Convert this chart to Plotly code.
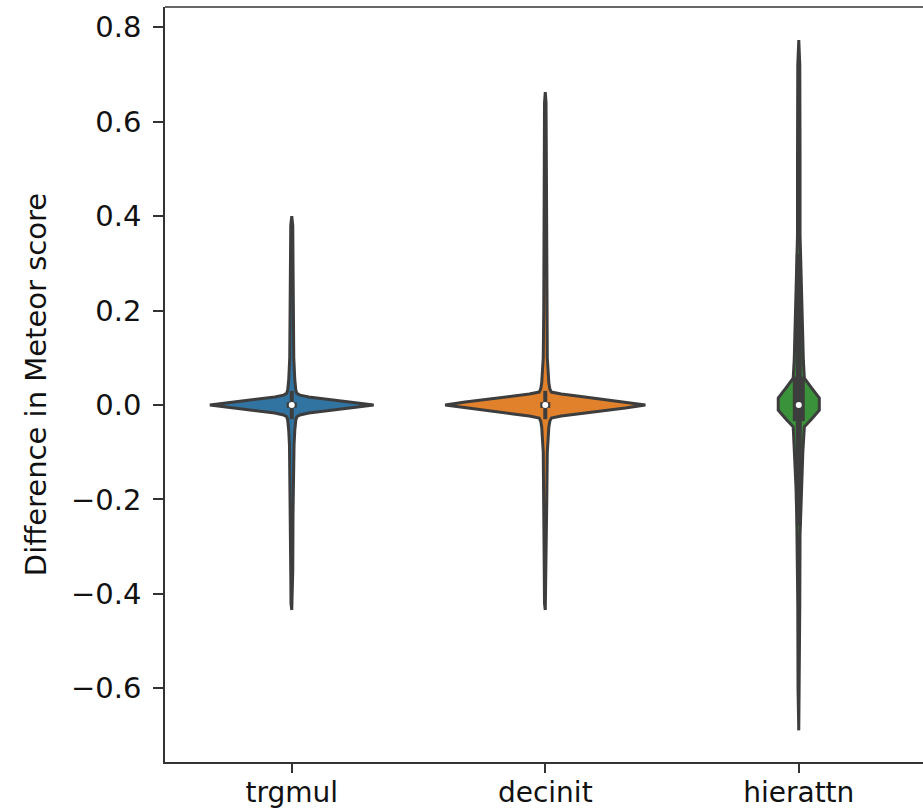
import numpy as np
import plotly.graph_objects as go

# Categories and colours
categories = ["trgmul", "decinit", "hierattn"]
fill_colors = ["#3274a1", "#e1812c", "#3a923a"]
edge_color = "#3d3d3d"

# Violin outlines: score values (ascending) and half-widths in category units
trgmul_y = [-0.434, -0.42, -0.35, -0.23, -0.21, -0.15, -0.085, -0.053, -0.042, -0.032, -0.025,
            -0.021, -0.017, -0.0127, -0.0085, -0.0042, 0.0, 0.0042, 0.0085, 0.0127, 0.017,
            0.021, 0.025, 0.032, 0.042, 0.053, 0.10, 0.20, 0.30, 0.38, 0.40]
trgmul_w = [0.0, 0.003, 0.004, 0.005, 0.007, 0.007, 0.009, 0.012, 0.013, 0.016, 0.020,
            0.032, 0.067, 0.130, 0.193, 0.260, 0.323, 0.260, 0.193, 0.130, 0.067,
            0.032, 0.020, 0.016, 0.013, 0.012, 0.008, 0.006, 0.005, 0.004, 0.0]

decinit_y = [-0.434, -0.42, -0.35, -0.20, -0.10, -0.047, -0.034, -0.0275, -0.0233, -0.019,
             -0.0148, -0.0106, -0.0064, 0.0, 0.0064, 0.0106, 0.0148, 0.019, 0.0233, 0.0275,
             0.034, 0.047, 0.10, 0.20, 0.40, 0.55, 0.64, 0.663]
decinit_w = [0.0, 0.003, 0.004, 0.006, 0.008, 0.014, 0.018, 0.024, 0.063, 0.126,
             0.189, 0.252, 0.316, 0.395, 0.316, 0.252, 0.189, 0.126, 0.063, 0.024,
             0.018, 0.014, 0.008, 0.006, 0.005, 0.004, 0.003, 0.0]

hierattn_y = [-0.689, -0.60, -0.42, -0.275, -0.237, -0.174, -0.10, -0.046, -0.030, -0.011,
              0.0, 0.015, 0.036, 0.057, 0.095, 0.138, 0.222, 0.300, 0.36, 0.53, 0.72, 0.773]
hierattn_w = [0.0, 0.003, 0.004, 0.005, 0.008, 0.011, 0.016, 0.022, 0.050, 0.081,
              0.081, 0.081, 0.051, 0.022, 0.018, 0.016, 0.013, 0.008, 0.005, 0.005, 0.004, 0.0]

# Inner box summaries: median, quartiles, whisker ends
medians = [0.0, 0.0, 0.0]
q1 = [-0.006, -0.006, -0.034]
q3 = [0.006, 0.006, 0.06]
whisker_lo = [-0.03, -0.03, -0.255]
whisker_hi = [0.03, 0.03, 0.32]
whisker_px = [4, 4, 6]
box_px = [10, 10, 12]

profiles = [(trgmul_y, trgmul_w), (decinit_y, decinit_w), (hierattn_y, hierattn_w)]

fig = go.Figure()

for i, (ys, ws) in enumerate(profiles):
    ys = np.asarray(ys, dtype=float)
    ws = np.asarray(ws, dtype=float)
    xs = np.concatenate([i - ws, (i + ws)[::-1]])
    yy = np.concatenate([ys, ys[::-1]])
    fig.add_trace(go.Scatter(
        x=xs, y=yy, mode="lines", fill="toself",
        fillcolor=fill_colors[i],
        line=dict(color=edge_color, width=3),
        hoverinfo="skip", showlegend=False,
    ))

for i in range(len(categories)):
    # whisker
    fig.add_trace(go.Scatter(
        x=[i, i], y=[whisker_lo[i], whisker_hi[i]], mode="lines",
        line=dict(color=edge_color, width=whisker_px[i]), hoverinfo="skip", showlegend=False,
    ))
    # interquartile box
    fig.add_trace(go.Scatter(
        x=[i, i], y=[q1[i], q3[i]], mode="lines",
        line=dict(color=edge_color, width=box_px[i]), hoverinfo="skip", showlegend=False,
    ))

# median points
fig.add_trace(go.Scatter(
    x=list(range(len(categories))), y=medians, mode="markers",
    marker=dict(color="white", size=6, line=dict(width=0)),
    hoverinfo="skip", showlegend=False,
))

axis_font = dict(family="DejaVu Sans", size=29, color="#111111")
xtick_font = dict(family="DejaVu Sans", size=28, color="#111111")

fig.update_layout(
    width=923, height=812,
    margin=dict(l=165, r=0, t=7, b=50),
    paper_bgcolor="white", plot_bgcolor="white",
    font=axis_font,
    xaxis=dict(
        range=[-0.5, 2.49], automargin=False,
        tickmode="array", tickvals=[0, 1, 2], ticktext=categories,
        showgrid=False, zeroline=False,
        showline=True, linecolor="#333333", linewidth=1.5,
        ticks="outside", ticklen=9, tickwidth=1.5, tickcolor="#333333",
        ticklabelstandoff=-4,
        tickfont=xtick_font,
    ),
    yaxis=dict(
        range=[-0.756, 0.843], automargin=False,
        tickmode="array", tickvals=[-0.6, -0.4, -0.2, 0.0, 0.2, 0.4, 0.6, 0.8],
        tickformat=".1f",
        showgrid=False, zeroline=False,
        showline=True, linecolor="#333333", linewidth=1.5,
        ticks="outside", ticklen=10, tickwidth=1.5, tickcolor="#333333",
        ticklabelstandoff=6,
        tickfont=axis_font,
        title=dict(text="Difference in Meteor score", font=axis_font, standoff=16),
    ),
    shapes=[dict(type="line", xref="paper", yref="paper", x0=0, x1=1, y0=1, y1=1,
                 line=dict(color="#333333", width=1.5))],
)

fig.write_html("out.html")
